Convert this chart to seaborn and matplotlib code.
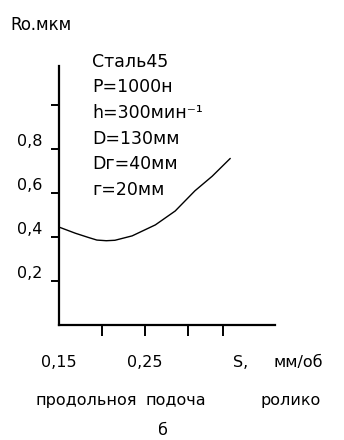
import matplotlib
matplotlib.use("Agg")
import matplotlib.pyplot as plt
import seaborn as sns
import pandas as pd

# data
feed = [0.150, 0.169, 0.184, 0.194, 0.205, 0.215, 0.235, 0.262, 0.285, 0.308, 0.328, 0.349]
roughness = [0.445, 0.417, 0.398, 0.386, 0.383, 0.385, 0.405, 0.455, 0.518, 0.610, 0.676, 0.757]
yticks = [0.2, 0.4, 0.6, 0.8, 1.0]
ytick_labels = ["0,2", "0,4", "0,6", "0,8", ""]
xticks = [0.20, 0.25, 0.30, 0.34]
xlabel_vals = [0.15, 0.25]
xlabel_texts = ["0,15", "0,25"]
conditions = ["Сталь45", "P=1000н", "h=300мин⁻¹", "D=130мм", "Dг=40мм", "г=20мм"]
caption_words = ["продольноя", "подоча", "ролико"]

sns.set_style("white")
plt.rcParams['font.family'] = ['DejaVu Sans']
plt.rcParams['text.color'] = 'black'
plt.rcParams['xtick.color'] = 'black'
plt.rcParams['ytick.color'] = 'black'

fig = plt.figure(figsize=(3.44, 4.40), dpi=100)
ax = fig.add_axes([59/344, (440-325)/440, 216/344, 259/440])

df = pd.DataFrame({"S": feed, "Ra": roughness})
sns.lineplot(data=df, x="S", y="Ra", ax=ax, color="black", linewidth=1.0)

ax.set_xlim(0.15, 0.401)
ax.set_ylim(0, 1.177)
for s in ["top", "right"]:
    ax.spines[s].set_visible(False)
for s in ["left", "bottom"]:
    ax.spines[s].set_linewidth(1.6)
    ax.spines[s].set_color("black")

ax.set_xticks(xticks)
ax.set_xticklabels([])
ax.tick_params(axis="x", direction="out", length=8, width=1.4, color="black", bottom=True)
ax.set_yticks(yticks)
ax.set_yticklabels(ytick_labels, fontsize=11.5, color="black")
ax.tick_params(axis="y", direction="out", length=6, width=1.4, color="black", left=True, pad=6)
for lab in ax.get_yticklabels():
    lab.set_va("bottom")
ax.set_xlabel("")
ax.set_ylabel("")

trans = ax.get_xaxis_transform()
for v, t in zip(xlabel_vals, xlabel_texts):
    ax.text(v, -0.145, t, transform=trans, ha="center", va="center", fontsize=11.5, color="black")
fig.text(241/344, 1 - 362/440, "S,", ha="center", va="center", fontsize=11.5, color="black")
fig.text(298/344, 1 - 362/440, "мм/об", ha="center", va="center", fontsize=11.5, color="black")
for xc, w in zip([86, 176, 291], caption_words):
    fig.text(xc/344, 1 - 400/440, w, ha="center", va="center", fontsize=11.5, color="black")
fig.text(163/344, 1 - 430/440, "б", ha="center", va="center", fontsize=11.5, color="black")
fig.text(10/344, 1 - 25/440, "Ro.мкм", ha="left", va="center", fontsize=12, color="black")

for i, line in enumerate(conditions):
    fig.text(92/344, 1 - (62 + 25.5*i)/440, line, ha="left", va="center", fontsize=12.5, color="black")

fig.savefig("out.png", dpi=100)
